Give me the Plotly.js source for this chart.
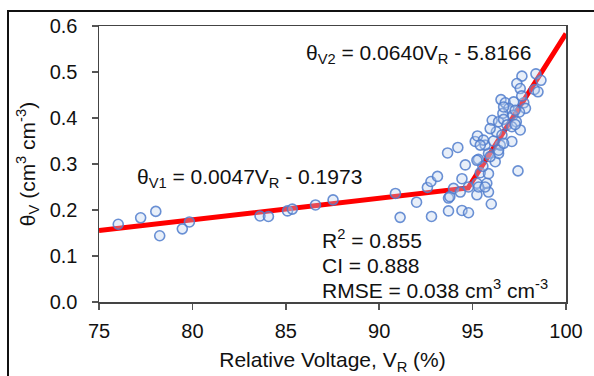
<!DOCTYPE html>
<html>
<head>
<meta charset="utf-8">
<script src="https://cdn.plot.ly/plotly-3.0.1.min.js"></script>
<style>
html,body{margin:0;padding:0;background:#fff;overflow:hidden;}
#wrap{position:relative;width:594px;height:376px;}
#chart{position:absolute;left:0;top:0;width:594px;height:376px;}
#frame{position:absolute;left:7px;top:10px;width:640px;height:420px;border:2px solid #111;pointer-events:none;box-sizing:border-box;}
</style>
</head>
<body>
<div id="wrap"><div id="chart"></div><div id="frame"></div></div>
<script>
// Measured points: relative voltage VR (%) and soil water content thetaV (cm3 cm-3)
const vr = [
 76.03,77.23,78.04,78.25,79.46,79.84,83.62,84.07,85.09,85.35,86.59,87.53,
 90.87,91.12,92.00,92.58,92.77,93.12,92.80,93.66,94.21,93.71,93.78,93.98,
 93.71,94.43,94.78,94.34,94.43,94.61,95.23,96.00,95.85,95.23,95.76,95.41,
 95.85,97.43,95.31,95.55,96.21,95.85,96.39,95.14,95.67,96.48,97.10,95.26,
 95.58,96.12,95.41,96.05,96.39,96.52,96.75,97.20,97.74,96.94,97.83,96.62,
 97.51,97.16,96.66,97.34,96.84,97.10,97.55,96.27,96.57,97.64,98.39,98.66,
 97.37,97.55,98.31,98.50,97.63,97.28,95.23,95.32,95.67,95.94,96.39,96.66,
 97.28,96.66,94.78,95.94
];
const theta = [
 0.169,0.183,0.197,0.144,0.159,0.174,0.187,0.186,0.198,0.202,0.211,0.222,
 0.236,0.184,0.217,0.249,0.262,0.273,0.186,0.324,0.336,0.226,0.229,0.247,
 0.198,0.199,0.194,0.239,0.268,0.298,0.233,0.213,0.239,0.258,0.258,0.281,
 0.279,0.285,0.310,0.295,0.305,0.323,0.323,0.349,0.341,0.341,0.349,0.361,
 0.352,0.350,0.341,0.395,0.392,0.440,0.433,0.435,0.433,0.421,0.421,0.410,
 0.413,0.406,0.397,0.392,0.385,0.381,0.374,0.370,0.363,0.491,0.496,0.482,
 0.475,0.464,0.462,0.457,0.448,0.386,0.308,0.250,0.250,0.316,0.330,0.345,
 0.417,0.424,0.250,0.377
];
// Piecewise regression coefficients (from the chart equations)
const slope1 = 0.0047, intercept1 = -0.1973;
const slope2 = 0.0640, intercept2 = -5.8166;
const xRange = [75, 100];
const yRange = [0, 0.6];
const xTicks = [75, 80, 85, 90, 95, 100];
const yTicks = [0.0, 0.1, 0.2, 0.3, 0.4, 0.5, 0.6];
const stats = ["R<sup>2</sup> = 0.855", "CI = 0.888", "RMSE = 0.038 cm<sup>3</sup> cm<sup>-3</sup>"];
const eq1 = "θ<sub>V1</sub> = 0.0047V<sub>R</sub> - 0.1973";
const eq2 = "θ<sub>V2</sub> = 0.0640V<sub>R</sub> - 5.8166";

const xb = (intercept1 - intercept2) / (slope2 - slope1);
const lineX = [xRange[0], xb, xRange[1]];
const lineY = [slope1*xRange[0]+intercept1, slope1*xb+intercept1, slope2*xRange[1]+intercept2];

const F = "Arial, 'Liberation Sans', sans-serif";
const traces = [
 {x: lineX, y: lineY, mode: 'lines', line: {color: '#ff0000', width: 5}, hoverinfo: 'skip'},
 {x: vr, y: theta, mode: 'markers',
  marker: {symbol: 'circle', size: 10, color: 'rgba(190,208,238,0.35)', line: {color: 'rgba(80,125,205,0.85)', width: 1.6}}}
];
const ann = [
 {x: 76.93, y: 0.269, xref: 'x', yref: 'y', text: eq1, showarrow: false, xanchor: 'left', yanchor: 'middle', font: {family: F, size: 21, color: '#111'}},
 {x: 85.98, y: 0.540, xref: 'x', yref: 'y', text: eq2, showarrow: false, xanchor: 'left', yanchor: 'middle', font: {family: F, size: 21, color: '#111'}},
 {x: 86.84, y: 0.1365, xref: 'x', yref: 'y', text: stats[0], showarrow: false, xanchor: 'left', yanchor: 'middle', font: {family: F, size: 21, color: '#111'}},
 {x: 86.84, y: 0.0798, xref: 'x', yref: 'y', text: stats[1], showarrow: false, xanchor: 'left', yanchor: 'middle', font: {family: F, size: 21, color: '#111'}},
 {x: 86.84, y: 0.0276, xref: 'x', yref: 'y', text: stats[2], showarrow: false, xanchor: 'left', yanchor: 'middle', font: {family: F, size: 21, color: '#111'}}
];
const layout = {
 width: 594, height: 376,
 margin: {l: 99, r: 28, t: 26, b: 74, pad: 0},
 paper_bgcolor: '#fff', plot_bgcolor: '#fff',
 showlegend: false,
 font: {family: F, size: 20, color: '#111'},
 xaxis: {range: xRange, tickvals: xTicks, ticktext: xTicks.map(String), showgrid: false, zeroline: false,
   showline: true, linecolor: '#444', linewidth: 1.5, mirror: true,
   ticks: 'outside', ticklen: 6, tickwidth: 1.5, tickcolor: '#555', ticklabelstandoff: 4,
   tickfont: {family: F, size: 20, color: '#111'},
   title: {text: 'Relative Voltage, V<sub>R</sub> (%)', font: {family: F, size: 21, color: '#111'}, standoff: 12}},
 yaxis: {range: yRange, tickvals: yTicks, ticktext: yTicks.map(v => v.toFixed(1)), showgrid: false, zeroline: false,
   showline: true, linecolor: '#444', linewidth: 1.5, mirror: true,
   ticks: 'outside', ticklen: 6, tickwidth: 1.5, tickcolor: '#555', ticklabelstandoff: 10,
   tickfont: {family: F, size: 20, color: '#111'},
   title: {text: 'θ<sub>V</sub> (cm<sup>3</sup> cm<sup>-3</sup>)', font: {family: F, size: 21, color: '#111'}, standoff: 8}},
 annotations: ann
};
Plotly.newPlot('chart', traces, layout, {staticPlot: true, displayModeBar: false});
</script>
</body>
</html>
